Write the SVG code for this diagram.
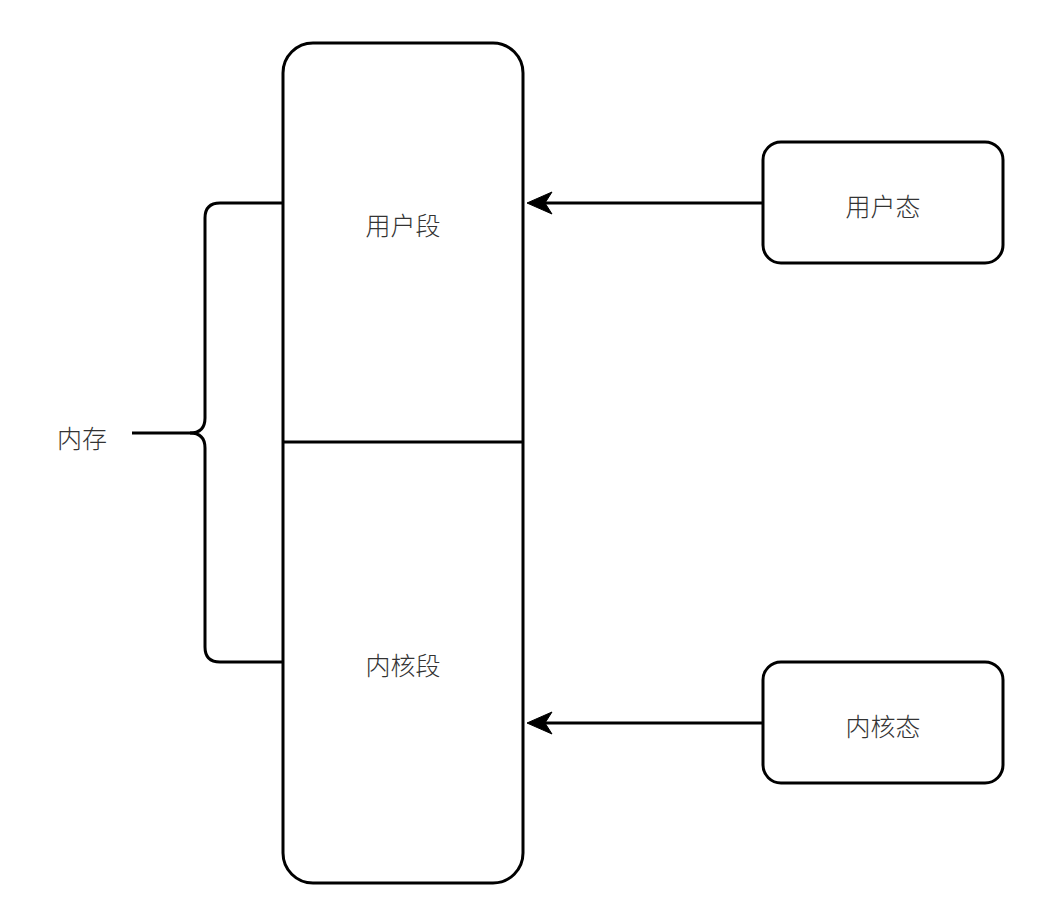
<svg xmlns="http://www.w3.org/2000/svg" width="1044" height="924" viewBox="0 0 1044 924">
<style>
.box{fill:#fff;stroke:#000;stroke-width:3}
.ln{fill:none;stroke:#000;stroke-width:3}
.t{font-family:"Noto Sans CJK SC","Noto Sans",sans-serif;font-size:25px;fill:#333;text-anchor:middle;dominant-baseline:central;font-weight:300}
</style>
<rect width="1044" height="924" fill="#fff"/>
<g id="memory">
<rect class="box" x="283" y="43" width="240" height="840" rx="30" ry="30"/>
<line class="ln" x1="283" y1="442" x2="523" y2="442"/>
</g>
<g id="user-seg"><text class="t" x="403" y="224">用户段</text></g>
<g id="kernel-seg"><text class="t" x="403" y="664">内核段</text></g>
<g id="mem-label"><text class="t" x="82" y="437">内存</text></g>
<g id="user-mode">
<rect class="box" x="763" y="142" width="240" height="121" rx="18" ry="18"/>
<text class="t" x="883" y="205">用户态</text>
</g>
<g id="kernel-mode">
<rect class="box" x="763" y="662" width="240" height="121" rx="18" ry="18"/>
<text class="t" x="883" y="725">内核态</text>
</g>
<g id="connectors">
<path class="ln" d="M283,203 H220 Q205,203 205,218 V418 Q205,433 190,433 H132"/>
<path class="ln" d="M190,433 Q205,433 205,448 V647 Q205,662 220,662 H283"/>
<line class="ln" x1="763" y1="203" x2="545" y2="203"/>
<path d="M527,203 L552,192 L545,203 L552,214 Z" fill="#000" stroke="#000" stroke-width="1"/>
<line class="ln" x1="763" y1="723" x2="545" y2="723"/>
<path d="M527,723 L552,712 L545,723 L552,734 Z" fill="#000" stroke="#000" stroke-width="1"/>
</g>
</svg>
